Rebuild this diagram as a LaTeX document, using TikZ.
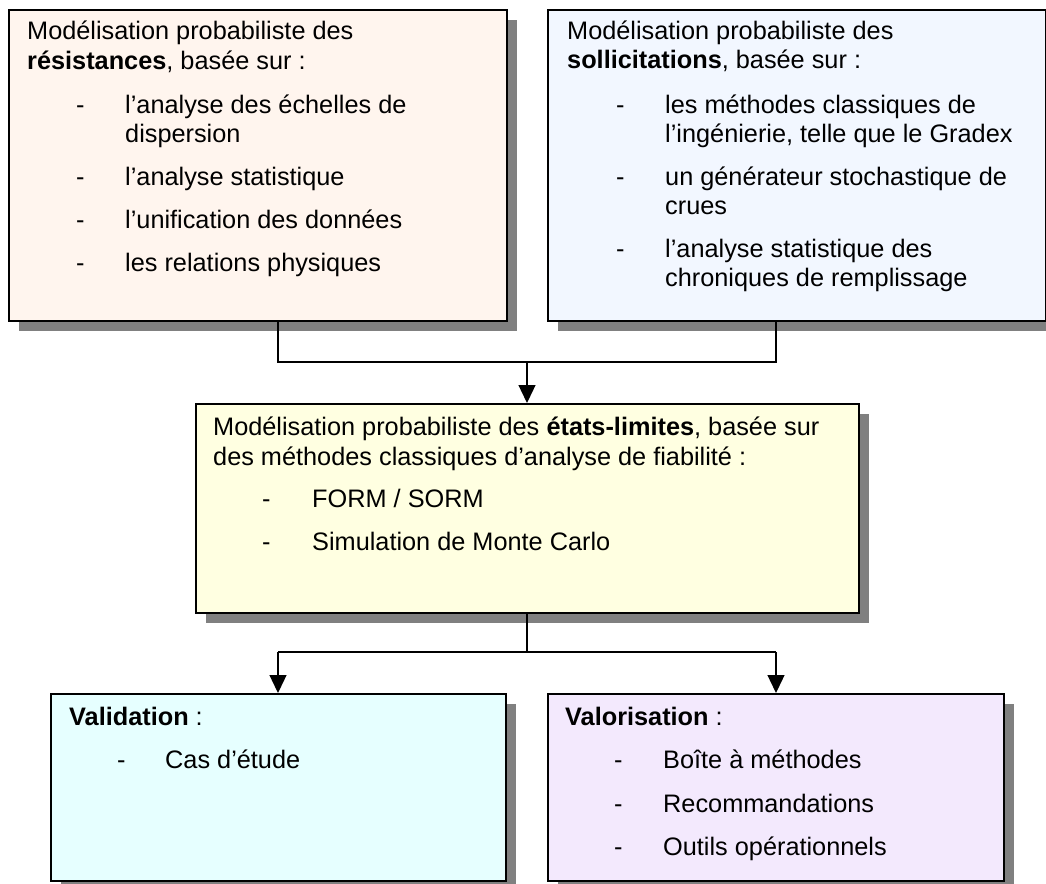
\documentclass[tikz,border=0pt]{standalone}
\usepackage{fontspec}
\setmainfont{Liberation Sans}
\usetikzlibrary{shadows,arrows.meta}
\definecolor{fillA}{HTML}{FFF5EE}
\definecolor{fillB}{HTML}{F2F7FF}
\definecolor{fillM}{HTML}{FFFFE1}
\definecolor{fillV}{HTML}{E6FFFF}
\definecolor{fillW}{HTML}{F3E9FD}
\definecolor{shadowgray}{HTML}{808080}
\tikzset{
  box/.style={draw=black, line width=1.6pt, rectangle, anchor=north west, inner sep=0pt,
    drop shadow={shadow xshift=10pt, shadow yshift=-10pt, fill=shadowgray, opacity=1}},
  txt/.style={anchor=base west, inner sep=0pt, font=\fontsize{25.3}{30}\selectfont},
  link/.style={draw=black, line width=1.3pt},
  arr/.style={link, -{Triangle[length=18pt,width=17pt]}}
}
\begin{document}
\begin{tikzpicture}[x=1pt,y=-1pt]
\useasboundingbox (0,0) rectangle (1046,883);
% boxes
\node[box, fill=fillA, minimum width=498pt, minimum height=311pt] (r1) at (8,9) {};
\node[box, fill=fillB, minimum width=498pt, minimum height=311pt] (r2) at (547,9) {};
\node[box, fill=fillM, minimum width=663pt, minimum height=209pt] (m) at (195,403) {};
\node[box, fill=fillV, minimum width=455pt, minimum height=187pt] (v1) at (50,693) {};
\node[box, fill=fillW, minimum width=456pt, minimum height=187pt] (v2) at (547,693) {};
% helper coordinates
\coordinate (xl) at (278,0);
\coordinate (xr) at (776,0);
\coordinate (xc) at (527,0);
\coordinate (yj) at (0,362);
\coordinate (yk) at (0,652);
% connectors
\draw[link] (xl |- r1.south) -- (xl |- yj) -- (xr |- yj) -- (xr |- r2.south);
\draw[arr] (xc |- yj) -- (xc |- m.north);
\draw[link] (xc |- m.south) -- (xc |- yk);
\draw[link] (xl |- yk) -- (xr |- yk);
\draw[arr] (xl |- yk) -- (xl |- v1.north);
\draw[arr] (xr |- yk) -- (xr |- v2.north);
% box 1 text
\node[txt] (a1) at (27,40) {Modélisation probabiliste des};
\node[txt] (a2) at (27,70) {\textbf{résistances}, basée sur :};
\node[txt] (a3d) at (76,113) {-};
\node[txt] (a3) at (125,113) {l’analyse des échelles de};
\node[txt] (a3b) at (125,142) {dispersion};
\node[txt] (a4d) at (76,185) {-};
\node[txt] (a4) at (125,185) {l’analyse statistique};
\node[txt] (a5d) at (76,228) {-};
\node[txt] (a5) at (125,228) {l’unification des données};
\node[txt] (a6d) at (76,271) {-};
\node[txt] (a6) at (125,271) {les relations physiques};
% box 2 text
\node[txt] (b1) at (567,40) {Modélisation probabiliste des};
\node[txt] (b2) at (567,69) {\textbf{sollicitations}, basée sur :};
\node[txt] (b3d) at (616,113) {-};
\node[txt] (b3) at (665,113) {les méthodes classiques de};
\node[txt] (b3b) at (665,142) {l’ingénierie, telle que le Gradex};
\node[txt] (b4d) at (616,185) {-};
\node[txt] (b4) at (665,185) {un générateur stochastique de};
\node[txt] (b4b) at (665,214) {crues};
\node[txt] (b5d) at (616,257) {-};
\node[txt] (b5) at (665,257) {l’analyse statistique des};
\node[txt] (b5b) at (665,286) {chroniques de remplissage};
% middle text
\node[txt] (m1) at (213,435) {Modélisation probabiliste des \textbf{états-limites}, basée sur};
\node[txt] (m2) at (213,465) {des méthodes classiques d’analyse de fiabilité :};
\node[txt] (m3d) at (262,507) {-};
\node[txt] (m3) at (312,507) {FORM / SORM};
\node[txt] (m4d) at (262,550) {-};
\node[txt] (m4) at (312,550) {Simulation de Monte Carlo};
% bottom left text
\node[txt] (v1a) at (69,725) {\textbf{Validation} :};
\node[txt] (v1bd) at (117,768) {-};
\node[txt] (v1b) at (165,768) {Cas d’étude};
% bottom right text
\node[txt] (v2a) at (565,725) {\textbf{Valorisation} :};
\node[txt] (v2bd) at (614,768) {-};
\node[txt] (v2b) at (663,768) {Boîte à méthodes};
\node[txt] (v2cd) at (614,812) {-};
\node[txt] (v2c) at (663,812) {Recommandations};
\node[txt] (v2dd) at (614,855) {-};
\node[txt] (v2d) at (663,855) {Outils opérationnels};
\end{tikzpicture}
\end{document}
